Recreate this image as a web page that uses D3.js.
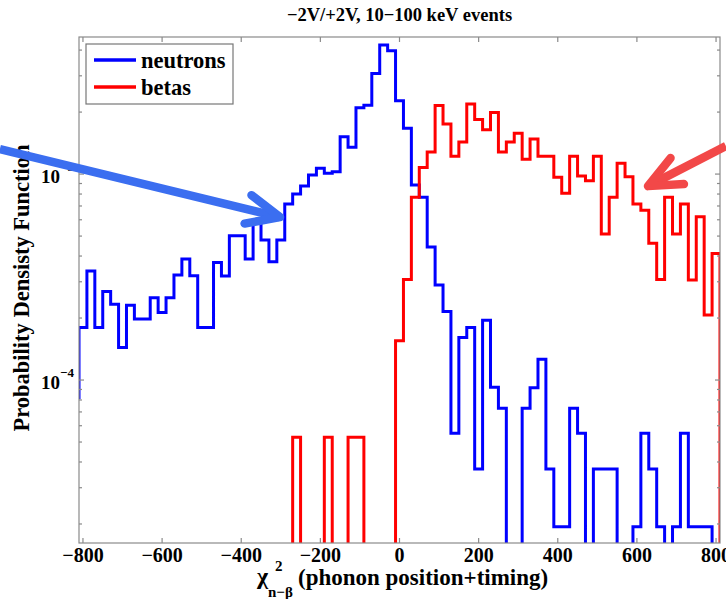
<!DOCTYPE html>
<html>
<head>
<meta charset="utf-8">
<script src="https://cdn.jsdelivr.net/npm/d3@7"></script>
<style>
  body { margin: 0; background: #fff; }
  svg { display: block; }
  text { font-family: "Liberation Serif", "Times New Roman", serif; font-weight: bold; fill: #000; }
</style>
</head>
<body>
<svg id="chart" width="726" height="599"></svg>
<script>
// Histogram bins (centres, width 20) of the chi-square discriminator
const binCenters = [-820, -800, -780, -760, -740, -720, -700, -680, -660, -640, -620, -600, -580, -560,
  -540, -520, -500, -480, -460, -440, -420, -400, -380, -360, -340, -320, -300, -280, -260, -240,
  -220, -200, -180, -160, -140, -120, -100, -80, -60, -40, -20, 0, 20, 40, 60, 80, 100, 120, 140,
  160, 180, 200, 220, 240, 260, 280, 300, 320, 340, 360, 380, 400, 420, 440, 460, 480, 500, 520,
  540, 560, 580, 600, 620, 640, 660, 680, 700, 720, 740, 760, 780, 800, 820];
const binWidth = 20;

// Probability density per bin, neutron calibration events
const neutrons = [8.2e-5, 1.80e-4, 3.38e-4, 1.80e-4, 2.69e-4, 2.33e-4, 1.44e-4, 2.31e-4, 1.98e-4, 1.98e-4,
  2.51e-4, 2.13e-4, 2.51e-4, 3.24e-4, 3.87e-4, 3.21e-4, 1.80e-4, 1.80e-4, 3.72e-4, 3.20e-4,
  5.02e-4, 5.02e-4, 3.87e-4, 5.78e-4, 4.78e-4, 3.75e-4, 4.78e-4, 7.15e-4, 8.0e-4, 8.75e-4,
  9.89e-4, 1.066e-3, 1.008e-3, 1.026e-3, 1.52e-3, 1.35e-3, 2.10e-3, 2.16e-3, 3.08e-3, 4.23e-3,
  3.97e-3, 2.27e-3, 1.67e-3, 8.85e-4, 7.71e-4, 4.43e-4, 2.89e-4, 2.15e-4, 5.51e-5, 1.61e-4,
  1.80e-4, 3.70e-5, 1.95e-4, 9.22e-5, 7.29e-5, 0, 0, 7.29e-5, 9.18e-5, 1.26e-4,
  3.70e-5, 1.94e-5, 1.94e-5, 7.29e-5, 5.51e-5, 0, 3.70e-5, 3.70e-5, 3.70e-5, 0,
  0, 1.94e-5, 5.51e-5, 3.70e-5, 1.94e-5, 0, 1.94e-5, 5.51e-5, 1.94e-5, 1.94e-5,
  1.94e-5, 0, 0];

// Probability density per bin, beta (surface) events
const betas = [0, 0, 0, 0, 0, 0, 0, 0, 0, 0,
  0, 0, 0, 0, 0, 0, 0, 0, 0, 0,
  0, 0, 0, 0, 0, 0, 0, 0, 5.27e-5, 0,
  0, 0, 5.27e-5, 0, 0, 5.27e-5, 5.27e-5, 0, 0, 0,
  0, 1.55e-4, 3.08e-4, 7.71e-4, 1.076e-3, 1.28e-3, 2.15e-3, 1.75e-3, 1.22e-3, 1.43e-3,
  2.19e-3, 1.84e-3, 1.64e-3, 1.99e-3, 1.28e-3, 1.43e-3, 1.58e-3, 1.18e-3, 1.48e-3, 1.22e-3,
  1.22e-3, 9.64e-4, 8.06e-4, 1.22e-3, 9.78e-4, 9.28e-4, 1.22e-3, 5.12e-4, 7.71e-4, 1.13e-3,
  9.70e-4, 7.15e-4, 6.68e-4, 4.62e-4, 3.08e-4, 7.71e-4, 5.12e-4, 7.15e-4, 3.06e-4, 6.21e-4,
  2.07e-4, 4.12e-4, 0];

const xTicks = [-800, -600, -400, -200, 0, 200, 400, 600, 800];
const yMajorTicks = [1e-4, 1e-3];
const yMajorLabels = ["\u22124", "\u22123"];
const yMinorTicks = [2e-5, 3e-5, 4e-5, 5e-5, 6e-5, 7e-5, 8e-5, 9e-5,
  2e-4, 3e-4, 4e-4, 5e-4, 6e-4, 7e-4, 8e-4, 9e-4, 2e-3, 3e-3, 4e-3];
const xDomain = [-810, 810];
const yDomain = [1.617e-5, 4.63e-3];

const seriesNames = ["neutrons", "betas"];
const seriesColors = ["#0000ff", "#ff0000"];

// Annotation arrows (start point, tip) in data coordinates
const arrowBlue = [[-1010, 1.322e-3], [-302, 6.18e-4]];
const arrowRed = [[825, 1.368e-3], [628, 8.74e-4]];

const svg = d3.select("#chart");
const plot = { left: 79, right: 720, top: 37, bottom: 543 };

const x = d3.scaleLinear().domain(xDomain).range([plot.left, plot.right]);
const y = d3.scaleLog().domain(yDomain).range([plot.bottom, plot.top]);

svg.append("defs").append("clipPath").attr("id", "plotClip")
  .append("rect")
  .attr("x", plot.left).attr("y", plot.top)
  .attr("width", plot.right - plot.left).attr("height", plot.bottom - plot.top);

// Step outline of one histogram
function stairPoints(values) {
  const pts = binCenters.map((c, i) => [c - binWidth / 2, values[i]]);
  const last = binCenters.length - 1;
  pts.push([binCenters[last] + binWidth / 2, values[last]]);
  return pts;
}
const stair = d3.line()
  .x(d => x(d[0]))
  .y(d => d[1] > 0 ? y(d[1]) : plot.bottom + 20)
  .curve(d3.curveStepAfter);

const hist = svg.append("g").attr("clip-path", "url(#plotClip)");
[neutrons, betas].forEach((vals, k) => {
  hist.append("path")
    .attr("d", stair(stairPoints(vals)))
    .attr("fill", "none")
    .attr("stroke", seriesColors[k])
    .attr("stroke-width", 3)
    .attr("stroke-linejoin", "miter");
});

// Axes box and inward ticks
const axisColor = "#8a8a8a";
const frame = svg.append("g");
frame.append("rect")
  .attr("x", plot.left).attr("y", plot.top)
  .attr("width", plot.right - plot.left).attr("height", plot.bottom - plot.top)
  .attr("fill", "none").attr("stroke", axisColor).attr("stroke-width", 1.2);

xTicks.forEach(t => {
  const px = x(t);
  frame.append("line").attr("x1", px).attr("x2", px)
    .attr("y1", plot.bottom).attr("y2", plot.bottom - 5)
    .attr("stroke", axisColor).attr("stroke-width", 1.2);
  frame.append("line").attr("x1", px).attr("x2", px)
    .attr("y1", plot.top).attr("y2", plot.top + 5)
    .attr("stroke", axisColor).attr("stroke-width", 1.2);
});
function yTick(v, len) {
  const py = y(v);
  frame.append("line").attr("x1", plot.left).attr("x2", plot.left + len)
    .attr("y1", py).attr("y2", py).attr("stroke", axisColor).attr("stroke-width", 1.2);
  frame.append("line").attr("x1", plot.right).attr("x2", plot.right - len)
    .attr("y1", py).attr("y2", py).attr("stroke", axisColor).attr("stroke-width", 1.2);
}
yMajorTicks.forEach(v => yTick(v, 5));
yMinorTicks.forEach(v => yTick(v, 3));

// Tick labels
const xFmt = v => (v < 0 ? "\u2212" + Math.abs(v) : String(v));
svg.append("g").selectAll("text").data(xTicks).join("text")
  .attr("x", d => x(d)).attr("y", 562)
  .attr("text-anchor", "middle")
  .attr("font-size", 20)
  .text(xFmt);

yMajorTicks.forEach((v, i) => {
  const py = y(v);
  const t = svg.append("text").attr("x", 41).attr("y", py + 8.5).attr("font-size", 19);
  t.append("tspan").text("10");
  t.append("tspan").attr("font-size", 13).attr("dy", -11.5).text(yMajorLabels[i]);
});

// Title
svg.append("text")
  .attr("x", (plot.left + plot.right) / 2).attr("y", 21)
  .attr("text-anchor", "middle").attr("font-size", 18.5)
  .text("\u22122V/+2V, 10\u2212100 keV events");

// X axis title: chi-square (n - beta) with super/subscripts
const xt = svg.append("g");
xt.append("text").attr("x", 257).attr("y", 584).attr("font-size", 24).text("\u03c7");
xt.append("text").attr("x", 275).attr("y", 571).attr("font-size", 15).text("2");
xt.append("text").attr("x", 268).attr("y", 597).attr("font-size", 15).text("n\u2212\u03b2");
xt.append("text").attr("x", 298).attr("y", 585).attr("font-size", 23).text("(phonon position+timing)");

// Y axis title
svg.append("text")
  .attr("transform", "translate(29,288) rotate(-90)")
  .attr("text-anchor", "middle").attr("font-size", 22.5)
  .text("Probability Densisty Function");

// Legend
const lg = svg.append("g");
lg.append("rect").attr("x", 86).attr("y", 44).attr("width", 147).attr("height", 60)
  .attr("fill", "#fff").attr("stroke", "#777").attr("stroke-width", 1.2);
seriesNames.forEach((name, i) => {
  const ly = 60 + i * 27;
  lg.append("line").attr("x1", 94).attr("x2", 136).attr("y1", ly).attr("y2", ly)
    .attr("stroke", seriesColors[i]).attr("stroke-width", 3.5);
  lg.append("text").attr("x", 141).attr("y", ly + 7.5).attr("font-size", 22.5).text(name);
});

// Annotation arrows
function arrow(spec, color) {
  const [s, e] = spec;
  const x0 = x(s[0]), y0 = y(s[1]), x1 = x(e[0]), y1 = y(e[1]);
  const g = svg.append("g").attr("stroke", color).attr("stroke-width", 8.5)
    .attr("stroke-linecap", "round").attr("fill", "none");
  g.append("line").attr("x1", x0).attr("y1", y0).attr("x2", x1).attr("y2", y1)
    .attr("stroke-linecap", "butt");
  const back = Math.atan2(y0 - y1, x0 - x1);
  const armLen = 36, spread = 24 * Math.PI / 180;
  const head = [back - spread, back + spread].map(a => [x1 + armLen * Math.cos(a), y1 + armLen * Math.sin(a)]);
  g.append("path")
    .attr("d", `M${head[0][0]},${head[0][1]} L${x1},${y1} L${head[1][0]},${head[1][1]}`)
    .attr("stroke-linejoin", "round");
}
arrow(arrowBlue, "#3b6ef0");
arrow(arrowRed, "#f24848");
</script>
</body>
</html>
